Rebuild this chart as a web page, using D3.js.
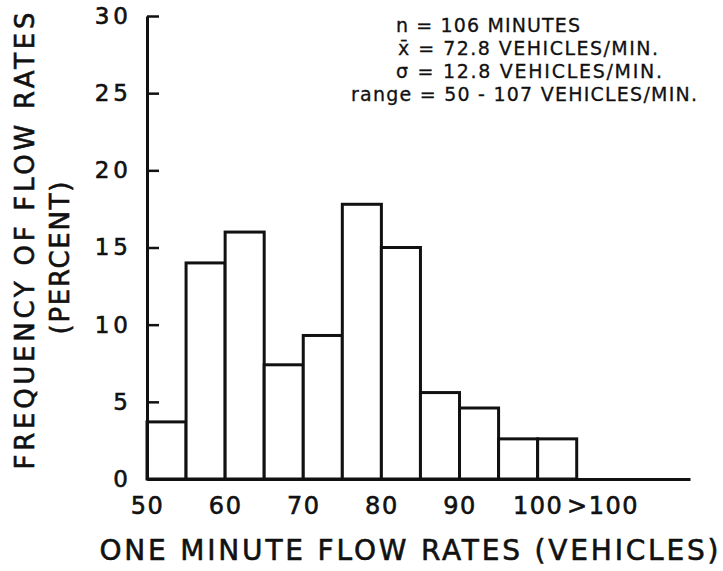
<!DOCTYPE html>
<html>
<head>
<meta charset="utf-8">
<script src="https://cdn.jsdelivr.net/npm/d3@7"></script>
<style>
  body { margin: 0; background: #fff; }
  svg text { font-family: "DejaVu Sans", sans-serif; fill: #111; stroke: #111; stroke-width: 0.6px; }
</style>
</head>
<body>
<svg class="chart-hist" width="723" height="571"></svg>
<script>
// bins of one minute flow rates (vehicles), 5 wide, last one is >100
var binStart = [50, 55, 60, 65, 70, 75, 80, 85, 90, 95, 100];
var percent  = [3.7, 14.0, 16.0, 7.4, 9.3, 17.8, 15.0, 5.6, 4.6, 2.6, 2.6];

var yTicks = [0, 5, 10, 15, 20, 25, 30];
var xTickVals = [50, 60, 70, 80, 90, 100, 108.3];
var xTickLabels = ["50", "60", "70", "80", "90", "100", ">100"];

var stats = [
    "n = 106 MINUTES",
    "x\u0304 = 72.8 VEHICLES/MIN.",
    "\u03c3 = 12.8 VEHICLES/MIN.",
    "range = 50 - 107 VEHICLES/MIN."
];

var binW = 5;

var scale = {
    x: d3.scaleLinear().domain([50, 119.5]).range([147, 690]),
    y: d3.scaleLinear().domain([0, 30]).range([479, 16])
};

var svg = d3.select("svg.chart-hist");

// bars
svg.selectAll("rect.bar")
   .data(percent)
   .enter()
   .append("rect")
   .attr("class", "bar")
   .attr("x", function (d, i) { return scale.x(binStart[i]); })
   .attr("y", function (d) { return scale.y(d); })
   .attr("width", function (d, i) { return scale.x(binStart[i] + binW) - scale.x(binStart[i]); })
   .attr("height", function (d) { return scale.y(0) - scale.y(d); })
   .attr("fill", "#fff")
   .attr("stroke", "#111")
   .attr("stroke-width", 3);

// y axis, ticks pointing inward
var yAxis = svg.append("g")
   .attr("transform", "translate(" + scale.x(50) + ",0)")
   .call(d3.axisLeft(scale.y)
           .tickValues(yTicks)
           .tickSizeInner(-12)
           .tickSizeOuter(0)
           .tickPadding(15));
yAxis.select(".domain").attr("stroke", "#111").attr("stroke-width", 3);
yAxis.selectAll(".tick line").attr("stroke", "#111").attr("stroke-width", 2.5);
yAxis.selectAll(".tick text")
     .attr("font-size", 23)
     .attr("letter-spacing", 4)
     .attr("fill", "#111");

// x axis, labels only
var xAxis = svg.append("g")
   .attr("transform", "translate(0," + scale.y(0) + ")")
   .call(d3.axisBottom(scale.x)
           .tickValues(xTickVals)
           .tickFormat(function (d, i) { return xTickLabels[i]; })
           .tickSize(0)
           .tickPadding(18));
xAxis.select(".domain").attr("stroke", "#111").attr("stroke-width", 3);
xAxis.selectAll(".tick text")
     .attr("font-size", 24)
     .attr("letter-spacing", 1.5)
     .attr("fill", "#111");

// axis titles
svg.append("text")
   .attr("transform", "translate(34,241) rotate(-90)")
   .attr("text-anchor", "middle")
   .attr("font-size", 26)
   .attr("textLength", 457)
   .attr("lengthAdjust", "spacing")
   .text("FREQUENCY OF FLOW RATES");

svg.append("text")
   .attr("transform", "translate(69,258) rotate(-90)")
   .attr("text-anchor", "middle")
   .attr("font-size", 26)
   .attr("textLength", 153)
   .attr("lengthAdjust", "spacing")
   .text("(PERCENT)");

svg.append("text")
   .attr("x", 409)
   .attr("y", 560)
   .attr("text-anchor", "middle")
   .attr("font-size", 28)
   .attr("textLength", 619)
   .attr("lengthAdjust", "spacing")
   .text("ONE MINUTE FLOW RATES (VEHICLES)");

// summary text, top right
var statX = [396, 398, 396, 351];
var statW = [184, 260, 266, 346];
svg.selectAll("text.stat")
   .data(stats)
   .enter()
   .append("text")
   .attr("class", "stat")
   .attr("x", function (d, i) { return statX[i]; })
   .attr("y", function (d, i) { return 32 + i * 23; })
   .attr("font-size", 19)
   .style("stroke-width", "0.3px")
   .attr("textLength", function (d, i) { return statW[i]; })
   .attr("lengthAdjust", "spacing")
   .text(function (d) { return d; });
</script>
</body>
</html>
